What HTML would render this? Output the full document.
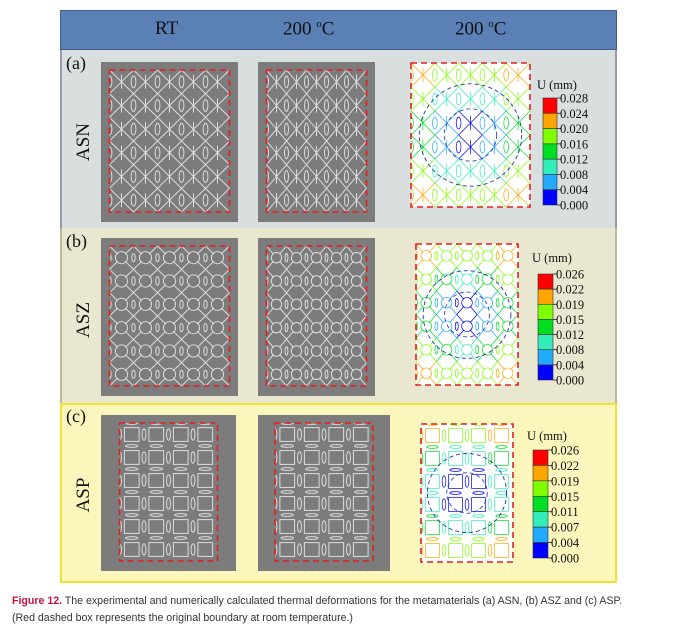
<!DOCTYPE html>
<html><head><meta charset="utf-8"><style>
body{margin:0;width:687px;height:627px;background:#fff;position:relative;overflow:hidden;font-family:"Liberation Serif",serif}
.abs{position:absolute}
.hdr{font-size:19px;color:#111;top:18px}
.cap{left:12px;font-family:"Liberation Sans",sans-serif;font-size:10.6px;color:#333;line-height:17px;top:593px}
</style></head><body>
<div class="abs" style="left:60px;top:10px;width:557px;height:573px;border:1px solid #8aa;box-sizing:border-box"></div>
<div class="abs" style="left:60px;top:10px;width:557px;height:40px;background:#5b80b6;border:1px solid #3f5f8f;box-sizing:border-box"></div>
<div class="abs hdr" style="left:155px">RT</div>
<div class="abs hdr" style="left:283px">200 <sup style="font-size:11px">o</sup>C</div>
<div class="abs hdr" style="left:455px">200 <sup style="font-size:11px">o</sup>C</div>
<div class="abs" style="left:60px;top:50px;width:557px;height:178px;background:#d9dfdf;border-left:2px solid #99a;border-right:2px solid #99a;box-sizing:border-box"></div>
<div class="abs" style="left:60px;top:228px;width:557px;height:175px;background:#e9e7d0;border-left:2px solid #bb9;border-right:2px solid #bb9;box-sizing:border-box"></div>
<div class="abs" style="left:60px;top:403px;width:557px;height:180px;background:#fbf6bb;border:2px solid #eee233;box-sizing:border-box"></div>
<svg class="abs" id="svg" style="left:0;top:0" width="687" height="627"></svg>
<div class="abs cap"><b style="color:#c0143c">Figure 12.</b> The experimental and numerically calculated thermal deformations for the metamaterials (a) ASN, (b) ASZ and (c) ASP.<br>(Red dashed box represents the original boundary at room temperature.)</div>
<script>
const panelLabels=["(a)","(b)","(c)"];
const materials=["ASN","ASZ","ASP"];
const ticksA=["0.028","0.024","0.020","0.016","0.012","0.008","0.004","0.000"];
const ticksB=["0.026","0.022","0.019","0.015","0.012","0.008","0.004","0.000"];
const ticksC=["0.026","0.022","0.019","0.015","0.011","0.007","0.004","0.000"];
const colors=["#ff0000","#ffa500","#80ff00","#00dd22","#33eebb","#22aaff","#0000ff"];
const NS="http://www.w3.org/2000/svg";
const svg=document.getElementById('svg');
function el(t,a,p){const e=document.createElementNS(NS,t);for(const k in a)e.setAttribute(k,a[k]);(p||svg).appendChild(e);return e;}
function txt(x,y,s,size,extra){const t=el('text',Object.assign({x:x,y:y,'font-size':size,'font-family':'Liberation Serif, serif',fill:'#111'},extra||{}));t.textContent=s;return t;}
const panels=[
 {top:50,photos:[[101,62,137,160],[258,62,117,160]],fe:[411,63,119,144],cb:[543,98,14,107],uy:89,ticks:ticksA,type:0},
 {top:228,photos:[[101,238,137,158],[258,238,117,158]],fe:[416,244,102,141],cb:[538,274,15,106],uy:262,ticks:ticksB,type:1},
 {top:403,photos:[[101,415,135,156],[258,415,132,156]],fe:[421,424,92,138],cb:[533,450,15,108],uy:440,ticks:ticksC,type:2}];
let clipId=0;
function clipG(parent,x,y,w,h){const id='cp'+(clipId++);const cp=el('clipPath',{id:id},parent);el('rect',{x:x,y:y,width:w,height:h},cp);return el('g',{'clip-path':'url(#'+id+')'},parent);}
panels.forEach((p,i)=>{
 const lab=txt(66,p.top+19,panelLabels[i],18);
 
 
 const m=txt(0,0,materials[i],19,{transform:'translate(89,'+(p.top+92)+') rotate(-90)','text-anchor':'middle'});
 
 
 p.photos.forEach((r,j)=>{
  const g=el('g',{});
  
  
  el('rect',{x:r[0],y:r[1],width:r[2],height:r[3],fill:'#7c7c7c'},g);
  const bh=r[3]-18,by=r[1]+8;
  const bw=i==2?98:r[2]-17, bx=i==2?r[0]+(r[2]-98)/2:r[0]+(r[2]-bw)/2;
  drawLattice(clipG(g,bx,by,bw,bh),bx,by,bw,bh,i,()=>'#dcdcdc',1);
  el('rect',{x:bx,y:by,width:bw,height:bh,fill:'none',stroke:'#e02020','stroke-width':1.6,'stroke-dasharray':'6,4'},g);
 });
 const f=p.fe,g=el('g',{});
 
 
 el('rect',{x:f[0],y:f[1],width:f[2],height:f[3],fill:'#fff'},g);
 const cx=f[0]+f[2]/2,cy=f[1]+f[3]/2,R=Math.hypot(f[2],f[3])/2;
 drawLattice(clipG(g,f[0],f[1],f[2],f[3]),f[0],f[1],f[2],f[3],i,(x,y)=>colors[Math.min(6,Math.floor((1-Math.hypot(x-cx,y-cy)/R)*7.5))],0.7);
 el('circle',{cx:cx,cy:cy,r:f[2]*0.43,fill:'none',stroke:'#2233aa','stroke-dasharray':'4,3','stroke-width':0.9},g);
 el('circle',{cx:cx,cy:cy,r:f[2]*0.22,fill:'none',stroke:'#3344bb','stroke-dasharray':'4,3','stroke-width':0.9},g);
 el('rect',{x:f[0],y:f[1],width:f[2],height:f[3],fill:'none',stroke:'#e02020','stroke-width':1.6,'stroke-dasharray':'6,4'},g);
 const c=p.cb,cg=el('g',{});
 
 
 txt(c[0]-6,p.uy,'U (mm)',12.5,{});
 const n=p.ticks.length-1,h=c[3]/n;
 for(let k=0;k<n;k++)el('rect',{x:c[0],y:c[1]+k*h,width:c[2],height:h,fill:colors[k],stroke:'#333','stroke-width':0.6},cg);
 p.ticks.forEach((t,k)=>{const y=c[1]+k*h;el('line',{x1:c[0]+c[2],x2:c[0]+c[2]+4,y1:y,y2:y,stroke:'#222','stroke-width':0.8},cg);const tt=txt(c[0]+c[2]+3,y+4.5,t,12.5,{});cg.appendChild(tt);
  
  });
});
function drawLattice(g,x,y,w,h,type,col,sw){
 const nc=type==2?4:5,nr=6,cw=w/nc,ch=h/nr;
 for(let r=0;r<nr;r++)for(let c=0;c<nc;c++){
  const x0=x+c*cw,y0=y+r*ch,mx=x0+cw/2,my=y0+ch/2,s=col(mx,my);
  const a={fill:'none',stroke:s,'stroke-width':sw};
  if(type==2){
   el('rect',Object.assign({x:x0+cw*0.2,y:y0+ch*0.2,width:cw*0.6,height:ch*0.6},a),g);
   el('ellipse',Object.assign({cx:x0,cy:my,rx:cw*0.08,ry:ch*0.25},a),g);
   el('ellipse',Object.assign({cx:mx,cy:y0,rx:cw*0.25,ry:ch*0.06},a),g);
  }else if(type==1){
   el('circle',Object.assign({cx:mx,cy:my,r:Math.min(cw,ch)*0.26},a),g);
   el('path',Object.assign({d:`M${x0} ${y0}L${mx-cw*0.15} ${my-ch*0.15}M${x0+cw} ${y0}L${mx+cw*0.15} ${my-ch*0.15}M${x0} ${y0+ch}L${mx-cw*0.15} ${my+ch*0.15}M${x0+cw} ${y0+ch}L${mx+cw*0.15} ${my+ch*0.15}`},a),g);
   el('ellipse',Object.assign({cx:x0,cy:my,rx:cw*0.07,ry:ch*0.18},a),g);
  }else{
   el('path',Object.assign({d:`M${x0} ${y0}L${x0+cw} ${y0+ch}M${x0+cw} ${y0}L${x0} ${y0+ch}M${mx} ${y0+ch*0.2}L${mx} ${y0+ch*0.8}`},a),g);
   el('ellipse',Object.assign({cx:x0,cy:my,rx:cw*0.1,ry:ch*0.25},a),g);
  }
 }
}
</script>
</body></html>
